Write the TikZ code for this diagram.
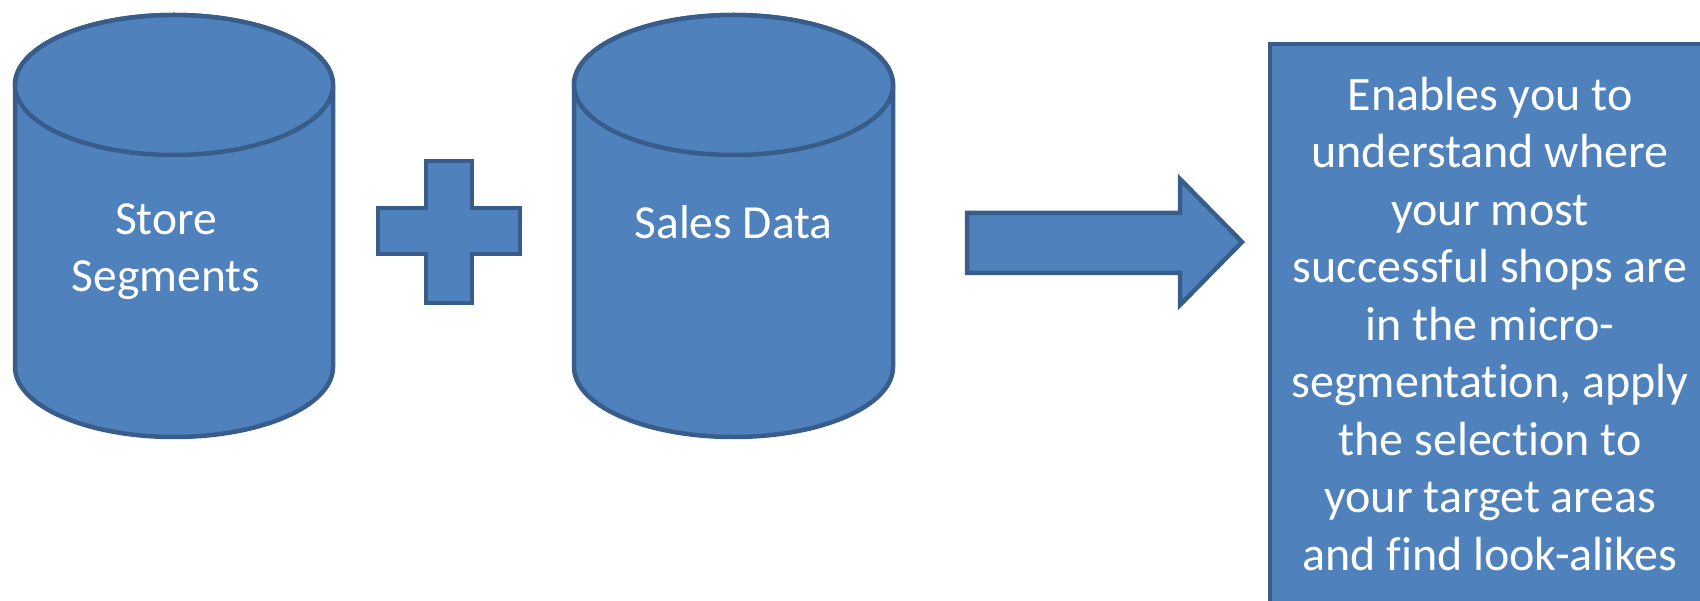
\documentclass[tikz,border=0pt]{standalone}
\usepackage{fontspec}
\setmainfont{Carlito}[Ligatures={NoCommon}]
\definecolor{fillblue}{HTML}{4F81BD}
\definecolor{edgeblue}{HTML}{385D8A}
\tikzset{
  shapefill/.style={fill=fillblue, draw=edgeblue, line width=4.5pt, line join=miter},
  cyltext/.style={text=white, align=center, font=\fontsize{47.5}{57}\selectfont, inner sep=0pt},
  boxtext/.style={text=white, align=center, font=\fontsize{48}{57.5}\selectfont, inner sep=0pt},
}
\begin{document}
\begin{tikzpicture}[x=1pt,y=-1pt]
\useasboundingbox (0,0) rectangle (1700,601);
\begin{scope}
\clip (0,0) rectangle (1700,601);
% cylinder 1
\path[shapefill] (15,85) -- (15,367) .. controls (15,405.7) and (86.2,437) .. (174,437)
  .. controls (261.8,437) and (333,405.7) .. (333,367) -- (333,85)
  .. controls (333,46.3) and (261.8,15) .. (174,15)
  .. controls (86.2,15) and (15,46.3) .. (15,85) -- cycle;
\path[shapefill] (174,85) ellipse [x radius=159, y radius=70];
% plus
\path[shapefill] (426,161) -- (472,161) -- (472,208) -- (520,208) -- (520,254) -- (472,254)
  -- (472,303) -- (426,303) -- (426,254) -- (378,254) -- (378,208) -- (426,208) -- cycle;
% cylinder 2
\path[shapefill] (574,85) -- (574,367) .. controls (574,405.7) and (645.4,437) .. (733.5,437)
  .. controls (821.6,437) and (893,405.7) .. (893,367) -- (893,85)
  .. controls (893,46.3) and (821.6,15) .. (733.5,15)
  .. controls (645.4,15) and (574,46.3) .. (574,85) -- cycle;
\path[shapefill] (733.5,85) ellipse [x radius=159.5, y radius=70];
% block arrow
\path[shapefill] (967,213) -- (1180,213) -- (1180,179) -- (1242,242) -- (1180,305)
  -- (1180,273) -- (967,273) -- cycle;
% result box
\path[shapefill] (1270,44) rectangle (1712,640);
\end{scope}
\node[cyltext, anchor=base] (store) at (166,292) {Store\\Segments};
\node[cyltext, anchor=base] (sales) at (733.5,239) {Sales Data};
\node[boxtext, anchor=base] (result) at (1490,570) {Enables you to\\understand where\\your most\\successful shops are\\in the micro-\\segmentation, apply\\the selection to\\your target areas\\and find look-alikes};
\end{tikzpicture}
\end{document}
